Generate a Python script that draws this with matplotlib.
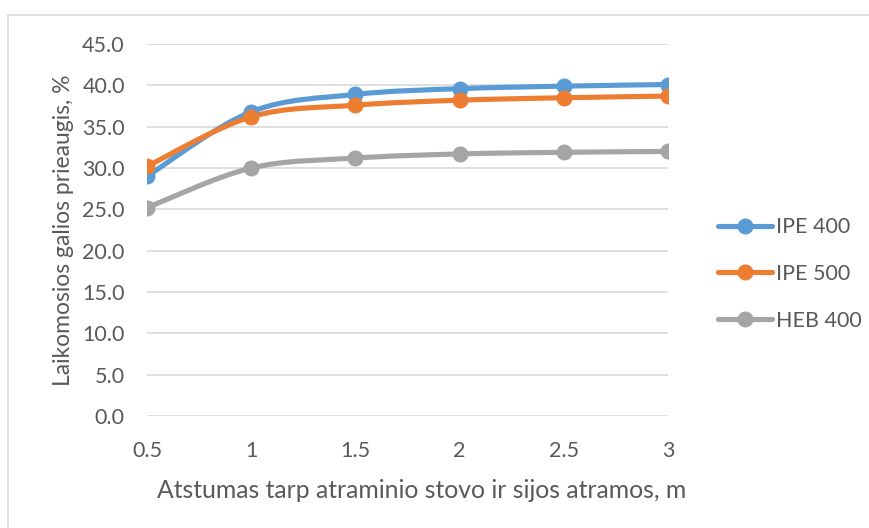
import matplotlib
matplotlib.use("Agg")
import matplotlib.pyplot as plt
import numpy as np
from matplotlib.path import Path
from matplotlib.patches import PathPatch, Rectangle
from matplotlib.lines import Line2D

# data
distance = [0.5, 1, 1.5, 2, 2.5, 3]
ipe400 = [29.0, 36.8, 38.9, 39.6, 39.9, 40.1]
ipe500 = [30.2, 36.2, 37.6, 38.2, 38.5, 38.7]
heb400 = [25.2, 30.0, 31.2, 31.7, 31.9, 32.0]
series_names = ["IPE 400", "IPE 500", "HEB 400"]
colors = ["#5B9BD5", "#ED7D31", "#A5A5A5"]

text_color = "#595959"
plt.rcParams['font.family'] = ['Lato', 'DejaVu Sans']


def smooth_path(x, y):
    """Excel-like smoothed line: cubic Bezier through all points."""
    pts = np.column_stack([x, y]).astype(float)
    n = len(pts)
    verts = [pts[0]]
    codes = [Path.MOVETO]
    for i in range(n - 1):
        p0 = pts[i - 1] if i > 0 else pts[i]
        p1 = pts[i]
        p2 = pts[i + 1]
        p3 = pts[i + 2] if i + 2 < n else pts[i + 1]
        c1 = p1 + (p2 - p0) / 6.0
        c2 = p2 - (p3 - p1) / 6.0
        verts += [c1, c2, p2]
        codes += [Path.CURVE4] * 3
    return Path(verts, codes)


fig = plt.figure(figsize=(8.69, 5.28), dpi=100)
ax = fig.add_axes([147 / 869, 1 - 416 / 528, (668 - 147) / 869, (416 - 44) / 528])

for vals, name, c in zip([ipe400, ipe500, heb400], series_names, colors):
    patch = PathPatch(smooth_path(distance, vals), facecolor="none", edgecolor=c,
                      lw=3.7, capstyle="round", joinstyle="round", zorder=3)
    ax.add_patch(patch)
    ax.plot(distance, vals, linestyle="none", marker="o", markersize=10.5,
            color=c, zorder=4, label=name)

ax.set_xlim(0.5, 3)
ax.set_ylim(0, 45)
ax.set_yticks(np.arange(0, 46, 5))
ax.set_yticklabels([f"{v:.1f}" for v in np.arange(0, 46, 5)])
ax.set_xticks(distance)
ax.set_xticklabels(["0.5", "1", "1.5", "2", "2.5", "3"])
ax.grid(axis="y", color="#D9D9D9", lw=1.2)
ax.set_axisbelow(True)
for s in ax.spines.values():
    s.set_visible(False)
ax.tick_params(length=0, labelsize=15.5, colors=text_color)
ax.tick_params(axis="y", pad=16)
ax.tick_params(axis="x", pad=18)

ax.set_ylabel("Laikomosios galios prieaugis, %", fontsize=16.5, color=text_color, labelpad=6)
ax.set_xlabel("Atstumas tarp atraminio stovo ir sijos atramos, m", fontsize=17.8,
              color=text_color)
ax.xaxis.set_label_coords(0.527, -0.17)

handles = [Line2D([0], [0], color=c, lw=3.7, marker="o", markersize=10.5, solid_capstyle="round")
           for c in colors]
fig.legend(handles, series_names, loc="center left", bbox_to_anchor=(699 / 869, 1 - 274 / 528),
           frameon=False, fontsize=15.5, labelcolor=text_color, handlelength=2.5,
           handletextpad=0.2, labelspacing=1.25)

fig.patches.append(Rectangle((8 / 869, -0.01), 1.0, 1 - 15 / 528 + 0.01,
                             transform=fig.transFigure, fill=False,
                             edgecolor="#D9D9D9", lw=1.2))

fig.savefig("out.png", dpi=100)
